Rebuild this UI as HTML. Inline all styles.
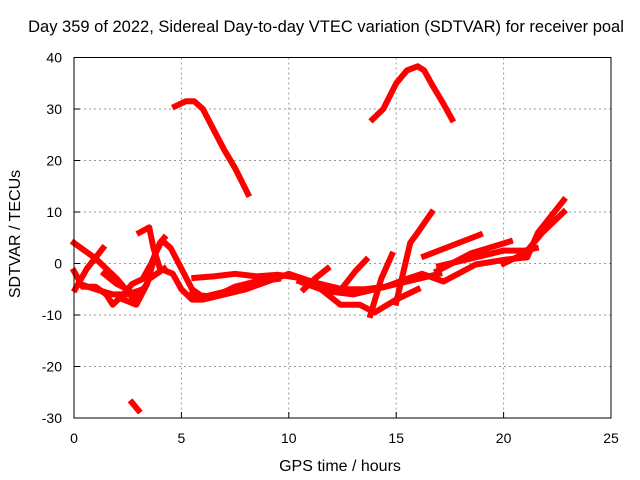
<!DOCTYPE html>
<html><head><meta charset="utf-8"><style>
body{margin:0;background:#fff}
svg{display:block;font-family:"Liberation Sans",sans-serif}
</style></head><body>
<svg id="chart" width="640" height="480">
<rect width="640" height="480" fill="#fff"/>
<text x="326" y="32" font-size="16.5" text-anchor="middle">Day 359 of 2022, Sidereal Day-to-day VTEC variation (SDTVAR) for receiver poal</text>
<g id="grid"></g>
<g id="series"></g>
<rect x="74" y="57.5" width="537" height="360.5" fill="none" stroke="#000" stroke-width="1"/>
<g id="ticks" font-size="14"></g>
<text x="340" y="471" font-size="16" text-anchor="middle">GPS time / hours</text>
<text transform="translate(20,234) rotate(-90)" font-size="16" text-anchor="middle">SDTVAR / TECUs</text>
</svg>
<script>
const xTicks=[0,5,10,15,20,25];
const yTicks=[-30,-20,-10,0,10,20,30,40];
const s1h=[0,1,2,2.8,3.2]; const s1v=[4,1,-3,-7,-5];
const s2h=[0.05,0.6,1.35]; const s2v=[-5,-1,3];
const s3h=[0,0.4,1,1.5,1.8,2.3,2.7,3.2,3.6,4,4.2]; const s3v=[-1.5,-4.5,-4.5,-6,-8,-6,-4,-3,0,4,5];
const s4h=[3.05,3.5,3.7,4,4.3,4.6,5,5.5,6,7,8,9,10,10.7]; const s4v=[6,7,3,-1,-1.5,-2,-5,-7,-7,-6,-5,-3.5,-2,-3];
const s5h=[2.3,2.9,3.4,3.8,4.1,4.5,5,5.5,6,7,8,9]; const s5v=[-7,-8,-4,2,4.5,3,-1,-5,-6.5,-5.5,-4,-3];
const s6h=[1.4,2,2.5,3,3.5,4.2]; const s6v=[-2,-4,-5,-7,-3,-1];
const s7h=[5.6,6.5,7.5,8.5,9.5,10.5,11.5,12.5,13.5,14.5,15.5,16.2,17.2,18.7,20,21.1,21.6,22.8]; const s7v=[-2.8,-2.5,-2,-2.5,-2.2,-2.8,-4,-5,-5,-4.5,-3,-2,-3.5,-0.2,0.7,1.2,6,12.3];
const s8h=[10.5,11.5,12.4,13.3,14,15,16]; const s8v=[-3.5,-5,-8,-8,-9.5,-7,-5];
const s9h=[10.7,11.2,11.8]; const s9v=[-5,-3,-1];
const s10h=[12.5,13.1,13.6]; const s10v=[-4.7,-1.5,0.7];
const s11h=[13.8,14.3,14.8]; const s11v=[-10,-3,1.7];
const s12h=[15,15.65,16,16.65]; const s12v=[-7.6,4,6,9.9];
const s13h=[16.3,17.6,18.9]; const s13v=[1.4,3.5,5.6];
const s14h=[16.9,18.5,20.3]; const s14v=[-1.5,2,4.3];
const s15h=[20,21,21.8,22.8]; const s15v=[0,2,6,10];
const s16h=[4.7,5.2,5.6,6,6.5,7,7.5,8.1]; const s16v=[30.5,31.5,31.5,30,26,22,18.5,13.5];
const s17h=[13.9,14.4,15,15.5,16,16.3,16.7,17.2,17.6]; const s17v=[28,30,35,37.5,38.3,37.5,34.5,31,28];
const s18h=[2.7,3.0]; const s18v=[-27,-28.5];
const s19h=[5.5,6.5,7.5,8.5,9.5]; const s19v=[-6,-6.5,-4.5,-3.5,-3];
const s20h=[11,12,13,14,15,16,17]; const s20v=[-4,-5.5,-6,-5,-4,-3,-2];
const s21h=[17,18,19,20,21,21.5]; const s21v=[-0.5,0.5,1.5,2.5,2.5,3];
const s22h=[0.3,1,1.8,2.5,3.2]; const s22v=[-4,-5,-6,-6,-5];
const allSeries=[[s1h,s1v],[s2h,s2v],[s3h,s3v],[s4h,s4v],[s5h,s5v],[s6h,s6v],[s7h,s7v],[s8h,s8v],[s9h,s9v],[s10h,s10v],[s11h,s11v],[s12h,s12v],[s13h,s13v],[s14h,s14v],[s15h,s15v],[s16h,s16v],[s17h,s17v],[s18h,s18v],[s19h,s19v],[s20h,s20v],[s21h,s21v],[s22h,s22v]];
const NS="http://www.w3.org/2000/svg";
const X0=74,X1=611,Y0=418,Y1=57.5;
function xs(h){return X0+(h-0)/(25-0)*(X1-X0);}
function ys(v){return Y0-(v+30)/70*(Y0-Y1);}
const grid=document.getElementById('grid'),ticks=document.getElementById('ticks'),ser=document.getElementById('series');
function mk(tag,attrs,parent){const e=document.createElementNS(NS,tag);for(const k in attrs)e.setAttribute(k,attrs[k]);parent.appendChild(e);return e;}
xTicks.forEach(t=>{const x=xs(t);
 if(t>0&&t<25){const l=mk('line',{x1:x,x2:x,y1:Y1,y2:Y0,stroke:'#999','stroke-dasharray':'2,3'},grid);
 
 }
 const tk=mk('line',{x1:x,x2:x,y1:Y0,y2:Y0-6,stroke:'#000'},ticks);
 
 
 const tx=mk('text',{x:x,y:443,'text-anchor':'middle'},ticks);tx.textContent=t;
 
 });
yTicks.forEach(t=>{const y=ys(t);
 if(t>-30&&t<40){const l=mk('line',{x1:X0,x2:X1,y1:y,y2:y,stroke:'#999','stroke-dasharray':'2,3'},grid);
 
 }
 const tk=mk('line',{x1:X0,x2:X0+6,y1:y,y2:y,stroke:'#000'},ticks);
 
 
 const tx=mk('text',{x:62,y:y+5,'text-anchor':'end'},ticks);tx.textContent=t;
 
 });
allSeries.forEach((s,i)=>{const pts=s[0].map((h,j)=>xs(h).toFixed(1)+','+ys(s[1][j]).toFixed(1)).join(' ');
 const p=mk('polyline',{points:pts,fill:'none',stroke:'#f00','stroke-width':6,'stroke-linejoin':'round','stroke-linecap':'square'},ser);
 
 });
</script>
</body></html>
